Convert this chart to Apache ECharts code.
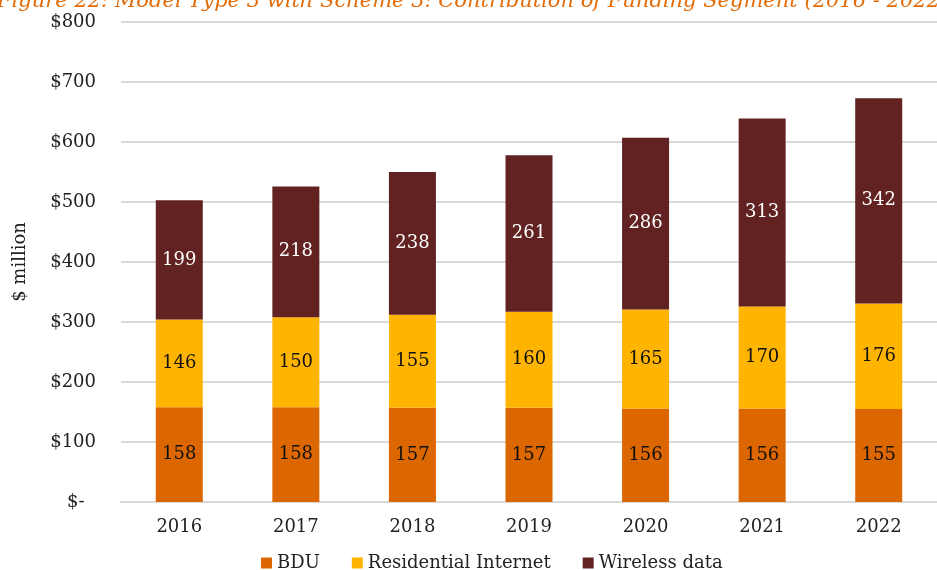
<!DOCTYPE html>
<html>
<head>
<meta charset="utf-8">
<script src="https://cdn.jsdelivr.net/npm/echarts@6/dist/echarts.min.js"></script>
<style>
  html, body { margin: 0; padding: 0; background: #fff; }
  #chart { width: 937px; height: 570px; }
</style>
</head>
<body>
<div id="chart"></div>
<script>
var years = ['2016', '2017', '2018', '2019', '2020', '2021', '2022'];
var bdu = [158, 158, 157, 157, 156, 156, 155];
var residential = [146, 150, 155, 160, 165, 170, 176];
var wireless = [199, 218, 238, 261, 286, 313, 342];
var yTicks = [0, 100, 200, 300, 400, 500, 600, 700, 800];

var font = 'DejaVu Serif';

function seg(name, data, color, labelColor) {
  return {
    name: name,
    type: 'bar',
    stack: 'total',
    barWidth: 47,
    data: data,
    itemStyle: { color: color },
    label: {
      show: true,
      position: 'inside',
      color: labelColor,
      fontFamily: font,
      fontSize: 18
    }
  };
}

var chart = echarts.init(document.getElementById('chart'));
chart.setOption({
  animation: false,
  title: {
    text: 'Figure 22: Model Type 3 with Scheme 3: Contribution of Funding Segment (2016 - 2022)',
    left: -8,
    top: -14,
    textStyle: {
      color: '#E36C09',
      fontFamily: font,
      fontStyle: 'italic',
      fontWeight: 'normal',
      fontSize: 21
    }
  },
  grid: { left: 121, right: -7, top: 22, bottom: 68, containLabel: false },
  legend: {
    left: 256,
    top: 549,
    itemWidth: 11,
    itemHeight: 11,
    itemGap: 32,
    icon: 'rect',
    textStyle: { fontFamily: font, fontSize: 18, color: '#222' },
    data: ['BDU', 'Residential Internet', 'Wireless data']
  },
  xAxis: {
    type: 'category',
    data: years,
    axisLine: { lineStyle: { color: '#d9d9d9', width: 2 } },
    axisTick: { show: false },
    axisLabel: { color: '#222', fontFamily: font, fontSize: 18, margin: 16 }
  },
  yAxis: {
    type: 'value',
    min: yTicks[0],
    max: yTicks[yTicks.length - 1],
    interval: 100,
    name: '$ million',
    nameLocation: 'middle',
    nameGap: 92,
    nameTextStyle: { color: '#222', fontFamily: font, fontSize: 18 },
    axisLine: { show: false },
    axisTick: { show: false },
    splitLine: { lineStyle: { color: '#d9d9d9', width: 2 } },
    axisLabel: {
      color: '#222',
      fontFamily: font,
      fontSize: 18,
      margin: 25,
      formatter: function (v) { return v === 0 ? '$-  ' : '$' + v; }
    }
  },
  series: [
    seg('BDU', bdu, '#DC6600', '#111'),
    seg('Residential Internet', residential, '#FFB400', '#111'),
    seg('Wireless data', wireless, '#622222', '#fff')
  ]
});
</script>
</body>
</html>
